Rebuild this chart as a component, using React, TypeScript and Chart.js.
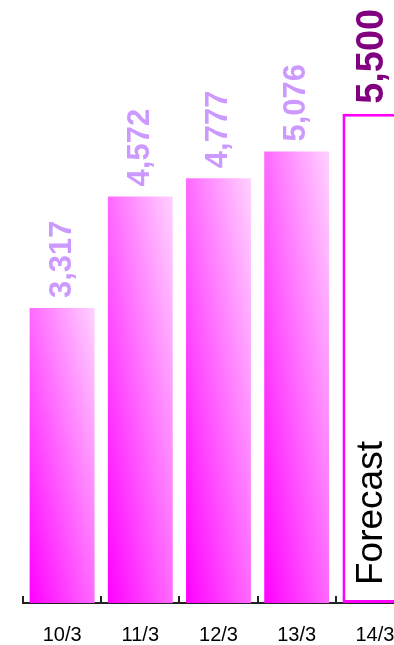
import { useEffect, useRef } from "react";
import { Chart, registerables } from "chart.js";

Chart.register(...registerables);

const categories = ["10/3", "11/3", "12/3", "13/3", "14/3"];
const values = [3317, 4572, 4777, 5076, 5500];
const valueLabels = ["3,317", "4,572", "4,777", "5,076", "5,500"];
const forecastIndex = 4;
const forecastLabel = "Forecast";
const yMin = 0;
const yMax = 6780;

const FONT = '"Liberation Sans", Arial, sans-serif';
const BAR_PCT = 0.83;

const annotPlugin = {
  id: "annot",
  afterDatasetsDraw(chart: any) {
    const { ctx, scales } = chart;
    const xs = scales.x;
    const ys = scales.y;
    const meta = chart.getDatasetMeta(0);
    meta.data.forEach((bar: any, i: number) => {
      const isF = i === forecastIndex;
      ctx.save();
      ctx.translate(isF ? bar.x - 2 : bar.x, bar.y - 10);
      ctx.rotate(-Math.PI / 2);
      ctx.font = `bold ${isF ? 38 : 31}px ${FONT}`;
      ctx.fillStyle = isF ? "#800080" : "#cc99ff";
      ctx.textAlign = "left";
      ctx.textBaseline = "middle";
      ctx.fillText(valueLabels[i], 0, 0);
      ctx.restore();
    });
    const fb = meta.data[forecastIndex];
    if (fb) {
      ctx.save();
      ctx.translate(fb.x - 3, ys.getPixelForValue(0) - 18);
      ctx.rotate(-Math.PI / 2);
      ctx.font = `37px ${FONT}`;
      ctx.fillStyle = "#000";
      ctx.textAlign = "left";
      ctx.textBaseline = "middle";
      ctx.fillText(forecastLabel, 0, 0);
      ctx.restore();
    }
    // upward tick marks at category boundaries
    const n = categories.length;
    const bottom = ys.getPixelForValue(0);
    ctx.save();
    ctx.strokeStyle = "#222";
    ctx.lineWidth = 2;
    for (let i = 0; i <= n; i++) {
      const px = Math.round(xs.left + (i * xs.width) / n);
      ctx.beginPath();
      ctx.moveTo(px, bottom - 7);
      ctx.lineTo(px, bottom);
      ctx.stroke();
    }
    ctx.restore();
  },
};

export default function App() {
  const ref = useRef<HTMLCanvasElement | null>(null);

  useEffect(() => {
    document.body.style.margin = "0";
    if (!ref.current) return;
    const chart = new Chart(ref.current, {
      type: "bar",
      data: {
        labels: categories,
        datasets: [
          {
            data: values,
            categoryPercentage: 1,
            barPercentage: BAR_PCT,
            borderColor: "#ff00ff",
            borderWidth: values.map((_, i) => (i === forecastIndex ? 3 : 0)),
            borderSkipped: false,
            backgroundColor: (c: any) => {
              if (c.type !== "data") return "#ff00ff";
              if (c.dataIndex === forecastIndex) return "#ffffff";
              const ch = c.chart;
              const { chartArea, scales } = ch;
              if (!chartArea) return "#ff00ff";
              const x = scales.x.getPixelForValue(c.dataIndex);
              const w = (scales.x.width / categories.length) * BAR_PCT;
              const left = x - w / 2;
              const bottom = scales.y.getPixelForValue(0);
              const top = scales.y.getPixelForValue(c.raw);
              const h = bottom - top;
              const L2 = w * w + h * h;
              const k = (2 * w * h) / L2;
              const g = ch.ctx.createLinearGradient(left, bottom, left + h * k, bottom - w * k);
              g.addColorStop(0, "#ff00ff");
              g.addColorStop(1, "#ffd2ff");
              return g;
            },
          } as any,
        ],
      },
      options: {
        responsive: false,
        animation: false,
        layout: { padding: { left: 23, right: 16, top: 0, bottom: 0 } },
        plugins: { legend: { display: false }, tooltip: { enabled: false } },
        scales: {
          x: {
            grid: { display: false, drawTicks: false },
            border: { display: true, color: "#222", width: 2 },
            ticks: { color: "#000", font: { family: FONT, size: 20 }, padding: 20, maxRotation: 0 },
            afterFit: (s: any) => {
              s.height = 42;
            },
          },
          y: { display: false, min: yMin, max: yMax },
        },
      },
      plugins: [annotPlugin],
    });
    return () => chart.destroy();
  }, []);

  return (
    <div style={{ width: 394, height: 645, overflow: "hidden", position: "relative", background: "#fff" }}>
      <canvas ref={ref} width={430} height={645} style={{ display: "block" }} />
    </div>
  );
}
